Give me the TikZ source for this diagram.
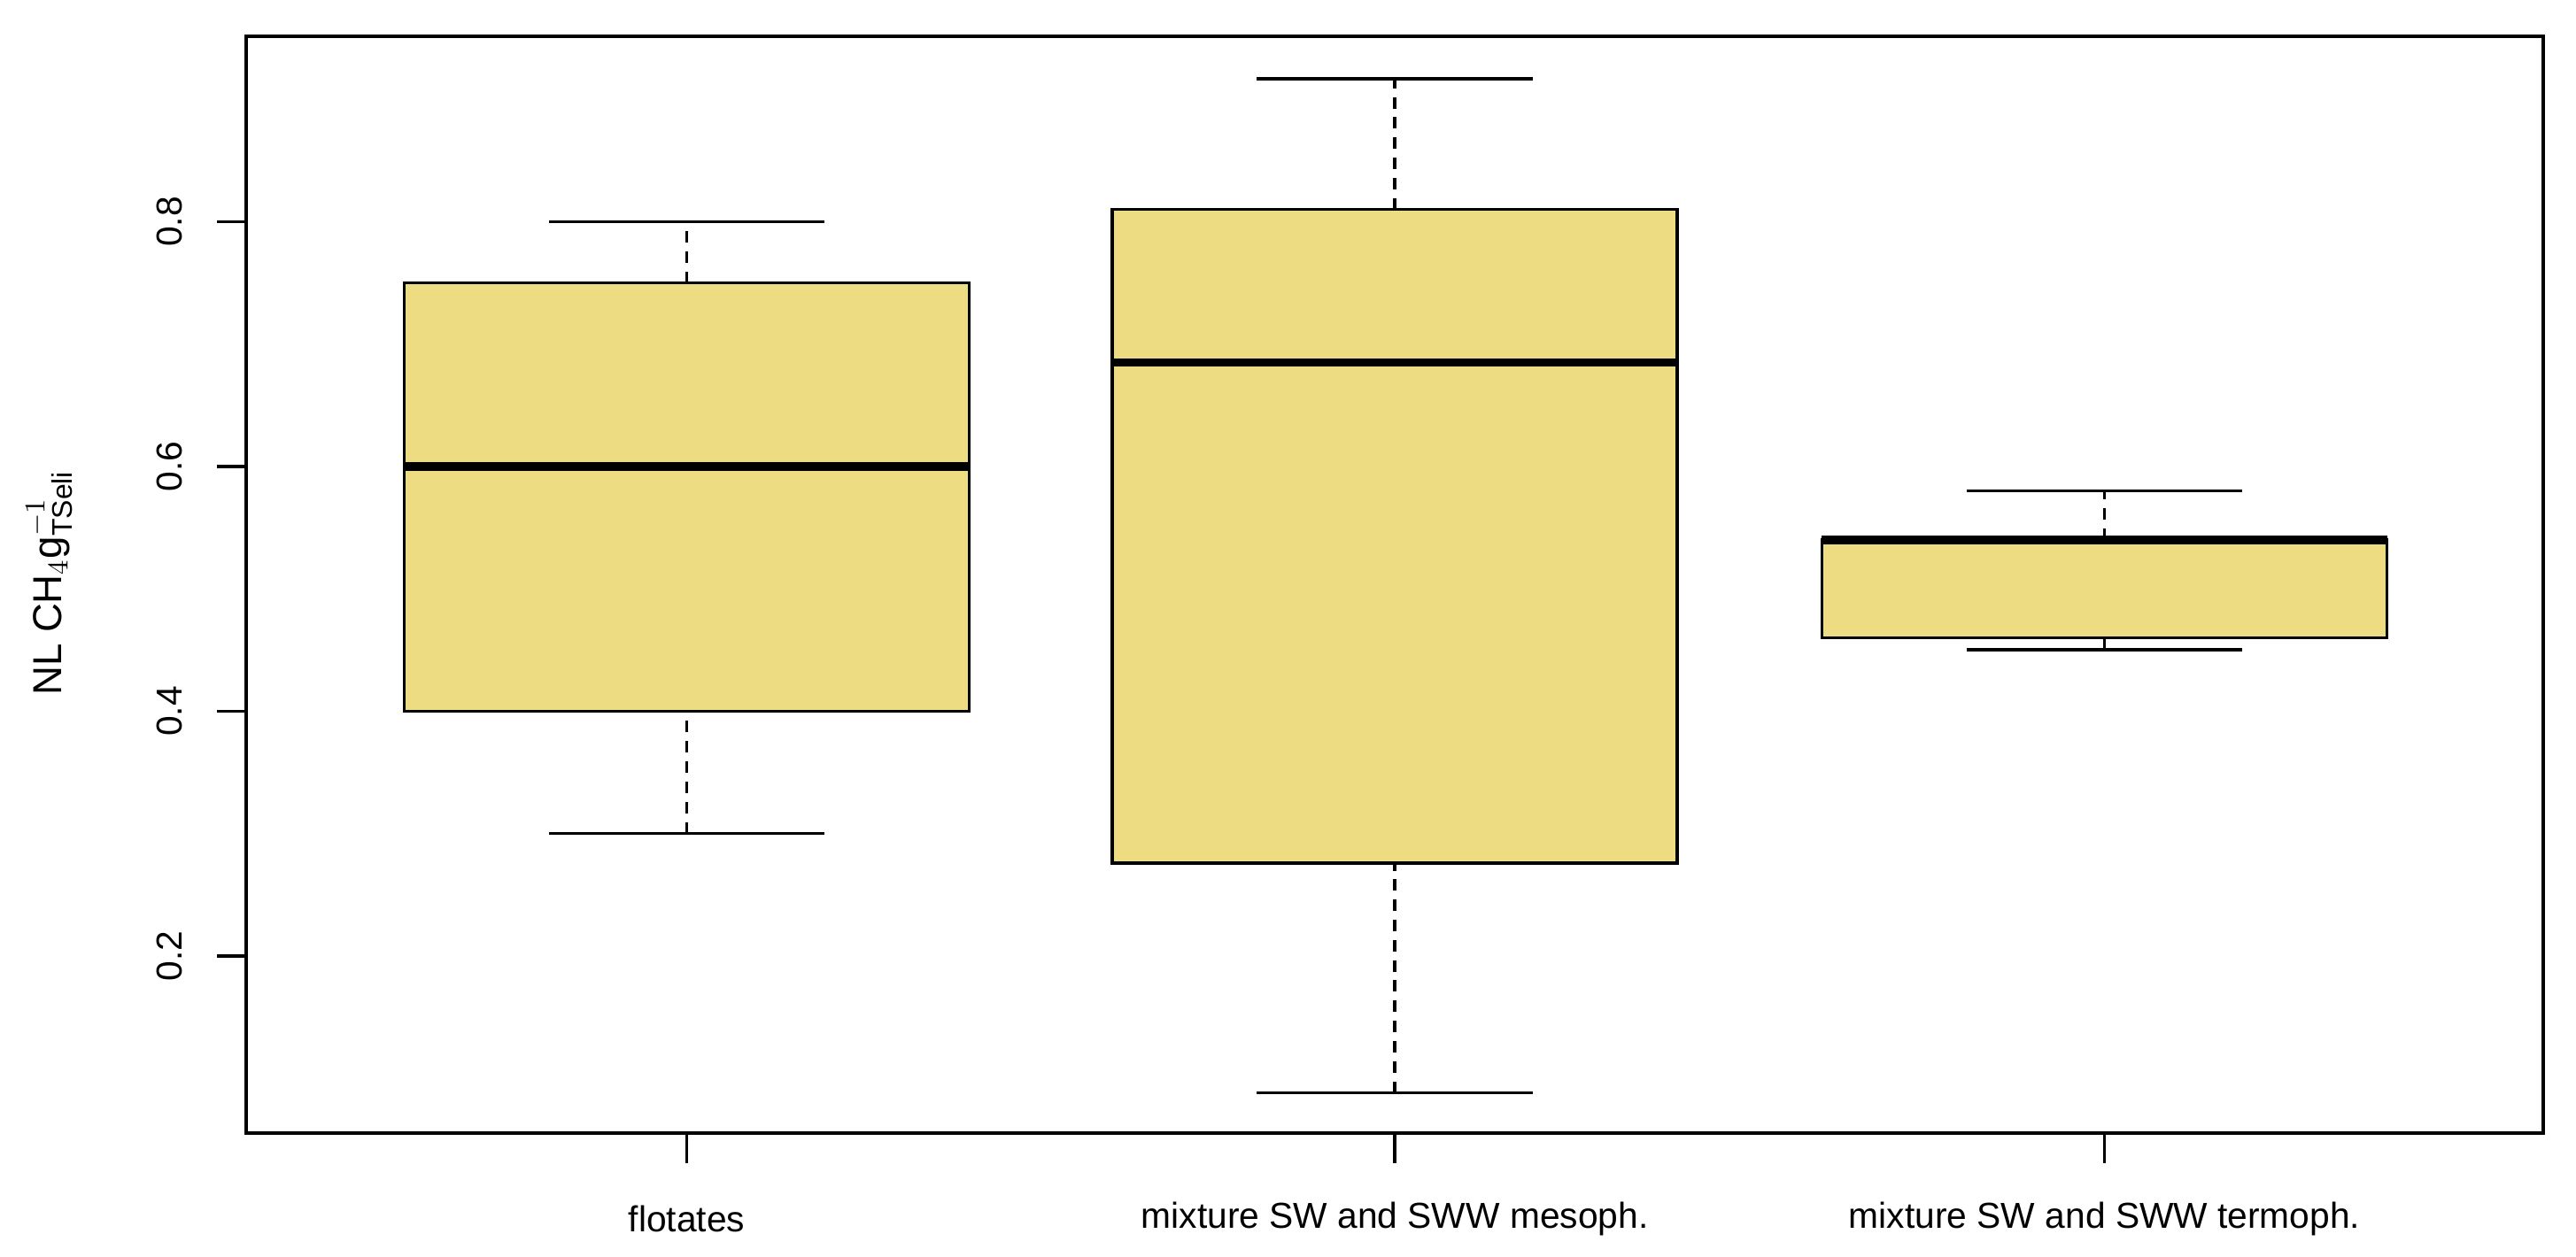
\documentclass[tikz,border=0pt]{standalone}
\usepackage{fontspec}
\setmainfont{Liberation Sans}
\definecolor{boxfill}{HTML}{EEDC82}
\begin{document}
\begin{tikzpicture}[x=0.02cm,y=-0.02cm,
  frame/.style={line width=1.1pt},
  whisk/.style={line width=1.1pt,dash pattern=on 4pt off 3pt},
  med/.style={line width=3pt},
  lab/.style={font=\fontsize{12.5}{14}\selectfont}]
\useasboundingbox (0,0) rectangle (1568,765);
\pgfmathsetmacro{\dummy}{0}
\def\Y#1{582-(#1-0.2)*745}
% box helper
\newcommand{\mybox}[6]{% center, q1, med, q3, lo, hi
  \draw[whisk] (#1,{\Y{#5}}) -- (#1,{\Y{#2}});
  \draw[whisk] (#1,{\Y{#4}}) -- (#1,{\Y{#6}});
  \draw[frame] (#1-84,{\Y{#5}}) -- (#1+84,{\Y{#5}});
  \draw[frame] (#1-84,{\Y{#6}}) -- (#1+84,{\Y{#6}});
  \draw[frame,fill=boxfill] (#1-172,{\Y{#2}}) rectangle (#1+172,{\Y{#4}});
  \draw[med] (#1-172,{\Y{#3}}) -- (#1+172,{\Y{#3}});
}
\mybox{418}{0.4}{0.6}{0.75}{0.3}{0.8}
\mybox{849}{0.276}{0.685}{0.81}{0.088}{0.917}
\mybox{1281}{0.46}{0.54}{0.54}{0.45}{0.58}
\draw[frame] (150,22) rectangle (1548,690);
\foreach \x/\t in {418/flotates,849/mixture SW and SWW mesoph.,1281/mixture SW and SWW termoph.}{
  \draw[frame] (\x,690) -- (\x,708);
  \node[lab] at (\x,742) {\t};
}
\foreach \v in {0.2,0.4,0.6,0.8}{
  \draw[frame] (150,{\Y{\v}}) -- (132,{\Y{\v}});
  \node[lab,rotate=90] at (103,{\Y{\v}}) {\v};
}
\node[lab,rotate=90,font=\fontsize{14}{16}\selectfont] at (30,355) {NL CH$_4$g$_{\mathrm{TSeli}}^{-1}$};
\end{tikzpicture}
\end{document}
